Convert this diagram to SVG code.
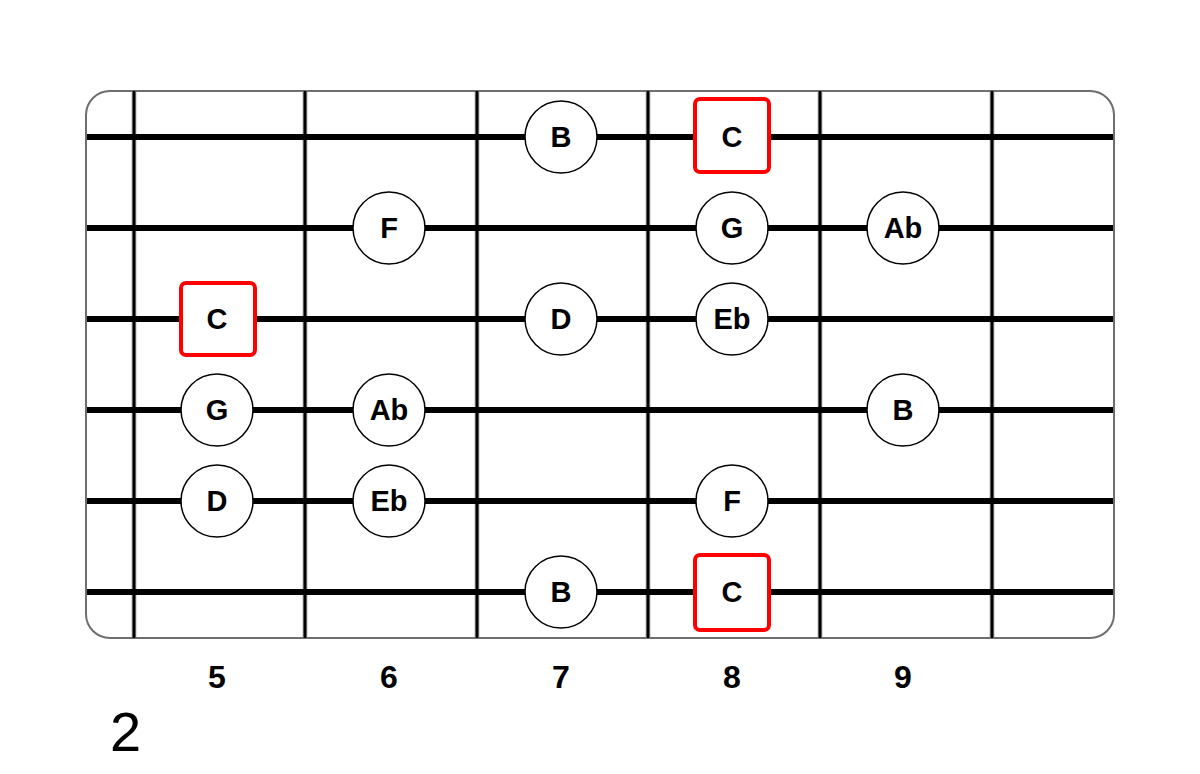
<svg xmlns="http://www.w3.org/2000/svg" width="1200" height="774" viewBox="0 0 1200 774">
<style>
.board{fill:#fff;stroke:#6e6e6e;stroke-width:2}
.fretO{stroke:#777;stroke-width:4.5}
.fretI{stroke:#000;stroke-width:2.5}
.str{stroke:#000;stroke-width:6}
.note circle{fill:#fff;stroke:#000;stroke-width:1.5}
.root rect{fill:#fff;stroke:#f00;stroke-width:4}
.lbl{font-family:"Liberation Sans",Arial,sans-serif;font-weight:bold;font-size:29px;text-anchor:middle;fill:#000}
.fn{font-family:"Liberation Sans",Arial,sans-serif;font-weight:bold;font-size:32px;text-anchor:middle;fill:#000}
.pos{font-family:"Liberation Sans",Arial,sans-serif;font-size:56px;fill:#000}
</style>
<rect class="board" x="86" y="91" width="1028" height="547" rx="24"/>
<g id="frets">
<line class="fretO" x1="134" y1="91" x2="134" y2="638"/><line class="fretI" x1="134" y1="91" x2="134" y2="638"/>
<line class="fretO" x1="305" y1="91" x2="305" y2="638"/><line class="fretI" x1="305" y1="91" x2="305" y2="638"/>
<line class="fretO" x1="477" y1="91" x2="477" y2="638"/><line class="fretI" x1="477" y1="91" x2="477" y2="638"/>
<line class="fretO" x1="648" y1="91" x2="648" y2="638"/><line class="fretI" x1="648" y1="91" x2="648" y2="638"/>
<line class="fretO" x1="820" y1="91" x2="820" y2="638"/><line class="fretI" x1="820" y1="91" x2="820" y2="638"/>
<line class="fretO" x1="992" y1="91" x2="992" y2="638"/><line class="fretI" x1="992" y1="91" x2="992" y2="638"/>
</g>
<g id="strings">
<line class="str" x1="87" y1="137" x2="1113" y2="137"/>
<line class="str" x1="87" y1="228" x2="1113" y2="228"/>
<line class="str" x1="87" y1="319" x2="1113" y2="319"/>
<line class="str" x1="87" y1="410" x2="1113" y2="410"/>
<line class="str" x1="87" y1="501" x2="1113" y2="501"/>
<line class="str" x1="87" y1="592" x2="1113" y2="592"/>
</g>
<g id="n1" class="note"><circle cx="561" cy="137" r="36"/><text class="lbl" x="561" y="147">B</text></g>
<g id="n2" class="root"><rect x="695" y="99" width="74" height="73" rx="5"/><text class="lbl" x="732" y="147">C</text></g>
<g id="n3" class="note"><circle cx="389" cy="228" r="36"/><text class="lbl" x="389" y="238">F</text></g>
<g id="n4" class="note"><circle cx="732" cy="228" r="36"/><text class="lbl" x="732" y="238">G</text></g>
<g id="n5" class="note"><circle cx="903" cy="228" r="36"/><text class="lbl" x="903" y="238">Ab</text></g>
<g id="n6" class="root"><rect x="181" y="283" width="74" height="72" rx="5"/><text class="lbl" x="217" y="329">C</text></g>
<g id="n7" class="note"><circle cx="561" cy="319" r="36"/><text class="lbl" x="561" y="329">D</text></g>
<g id="n8" class="note"><circle cx="732" cy="319" r="36"/><text class="lbl" x="732" y="329">Eb</text></g>
<g id="n9" class="note"><circle cx="217" cy="410" r="36"/><text class="lbl" x="217" y="420">G</text></g>
<g id="n10" class="note"><circle cx="389" cy="410" r="36"/><text class="lbl" x="389" y="420">Ab</text></g>
<g id="n11" class="note"><circle cx="903" cy="410" r="36"/><text class="lbl" x="903" y="420">B</text></g>
<g id="n12" class="note"><circle cx="217" cy="501" r="36"/><text class="lbl" x="217" y="511">D</text></g>
<g id="n13" class="note"><circle cx="389" cy="501" r="36"/><text class="lbl" x="389" y="511">Eb</text></g>
<g id="n14" class="note"><circle cx="732" cy="501" r="36"/><text class="lbl" x="732" y="511">F</text></g>
<g id="n15" class="note"><circle cx="561" cy="592" r="36"/><text class="lbl" x="561" y="602">B</text></g>
<g id="n16" class="root"><rect x="695" y="555" width="74" height="75" rx="5"/><text class="lbl" x="732" y="602">C</text></g>
<g id="fretnums">
<text class="fn" x="217" y="688">5</text>
<text class="fn" x="389" y="688">6</text>
<text class="fn" x="561" y="688">7</text>
<text class="fn" x="732" y="688">8</text>
<text class="fn" x="903" y="688">9</text>
</g>
<text class="pos" x="110" y="751">2</text>
</svg>
